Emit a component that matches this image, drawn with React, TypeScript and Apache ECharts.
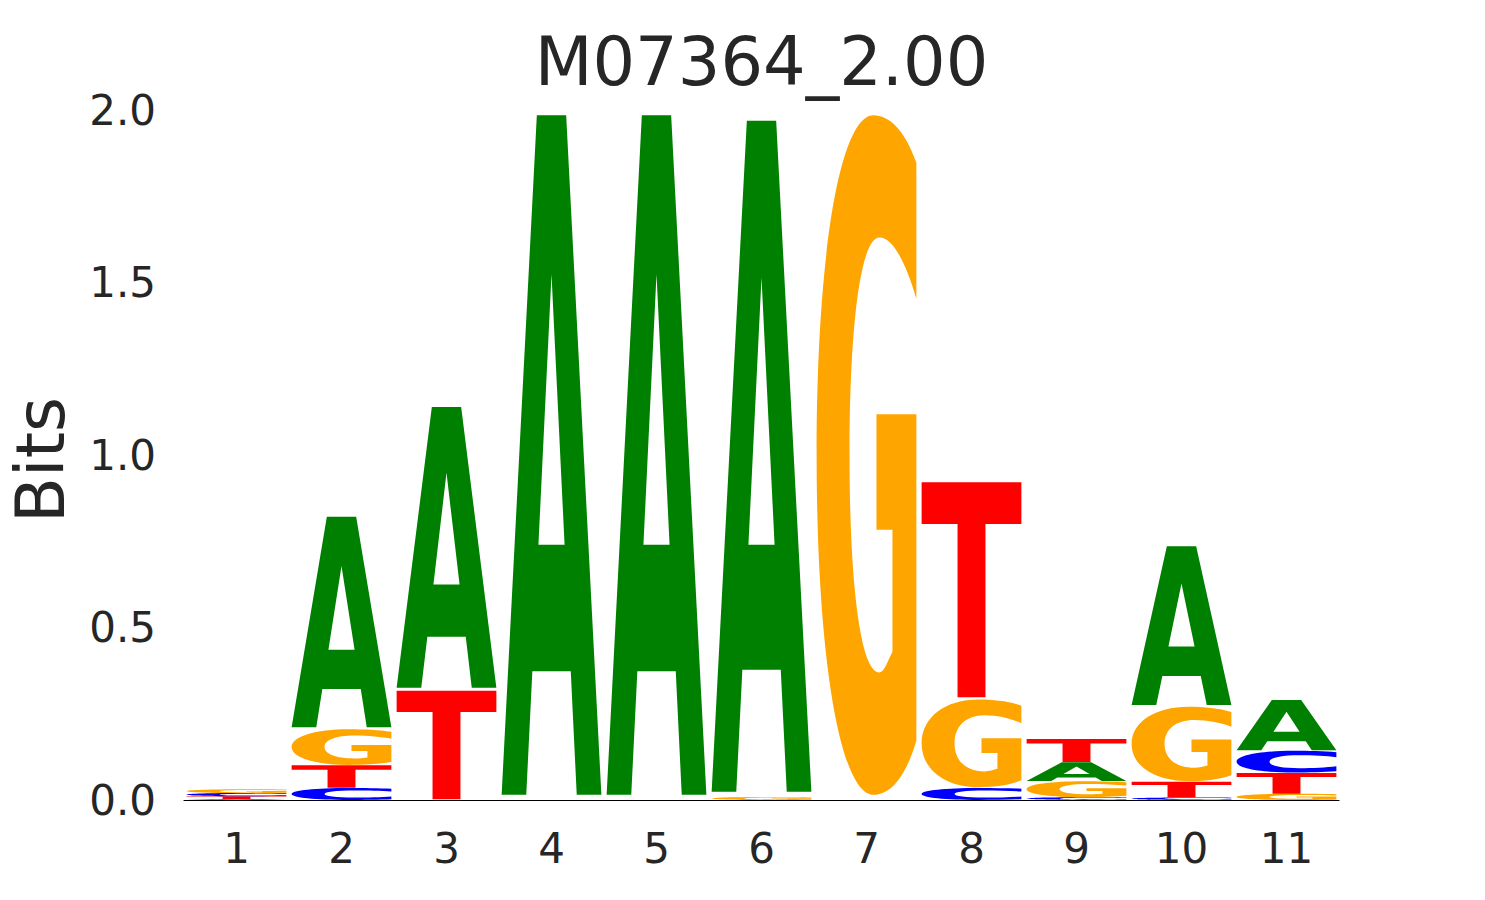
import React, { useEffect, useRef } from "react";
import * as echarts from "echarts";

// ---- data ----
const positions = ["1", "2", "3", "4", "5", "6", "7", "8", "9", "10", "11"];
const letters = ["A", "C", "G", "T"];
const letterColors = ["#008000", "#0000ff", "#ffa500", "#ff0000"];
const heightsA = [0.003, 0.62, 0.826, 2.0, 2.0, 1.975, 0, 0, 0.055, 0.467, 0.148];
const heightsC = [0.009, 0.035, 0, 0, 0, 0, 0, 0.035, 0.008, 0.007, 0.064];
const heightsG = [0.011, 0.105, 0, 0, 0, 0.009, 2.0, 0.258, 0.047, 0.219, 0.018];
const heightsT = [0.008, 0.066, 0.319, 0, 0, 0, 0, 0.633, 0.067, 0.046, 0.061];
const yTicks = [0, 0.5, 1.0, 1.5, 2.0];
const title = "M07364_2.00";
const yName = "Bits";

// glyph outlines in a 100x100 box (y down), stretched to fill each slot
const glyphPaths = [
  // A
  "M0 100 L35.3 0 L64.7 0 L100 100 L75.3 100 L69.3 81.8 L30.8 81.8 L24.7 100 Z M36.9 63.2 L63.1 63.2 L50 23.4 Z",
  // C
  "M100 6 C88 2 72 0 57 0 C24 0 0 20 0 50 C0 80 24 100 57 100 C72 100 88 98 100 94 L100 71 C90 77 76 80 63 80 C44 80 33 68 33 50 C33 32 44 20 63 20 C76 20 90 23 100 29 Z",
  // G
  "M100 7 C88 2 72 0 57 0 C24 0 0 20 0 50 C0 80 24 100 57 100 C72 100 88 98 100 92 L100 44 L60 44 L60 61 L76 61 L76 79 C72 80 68 82 63 82 C44 82 33 69 33 50 C33 31 44 18 63 18 C77 18 90 22 100 27 Z",
  // T
  "M0 0 L100 0 L100 19.5 L64 19.5 L64 100 L36 100 L36 19.5 L0 19.5 Z",
];

const VPAD = 0.015;
const GLYPH_WIDTH = 0.95;
const FONT = "DejaVu Sans";
const TEXT_COLOR = "#262626";

function buildGlyphData() {
  const all = [heightsA, heightsC, heightsG, heightsT];
  const out: number[][] = [];
  positions.forEach((_, i) => {
    const col = letters
      .map((_, li) => ({ li, h: all[li][i] }))
      .filter((d) => d.h > 0)
      .sort((a, b) => a.h - b.h);
    let base = 0;
    col.forEach((d) => {
      out.push([i, base, d.h, d.li]);
      base += d.h;
    });
  });
  return out;
}

export default function App() {
  const ref = useRef<HTMLDivElement>(null);
  useEffect(() => {
    if (!ref.current) return;
    const chart = echarts.init(ref.current, null, { renderer: "svg" });
    const gridLeft = 184;
    const gridTop = 110;
    const gridW = 1155;
    const gridH = 690;
    chart.setOption({
      animation: false,
      backgroundColor: "#ffffff",
      textStyle: { fontFamily: FONT },
      grid: { left: gridLeft, top: gridTop, width: gridW, height: gridH, containLabel: false },
      graphic: [
        {
          type: "text",
          x: gridLeft + gridW / 2,
          y: 62,
          style: {
            text: title,
            font: `67px "${FONT}"`,
            fill: TEXT_COLOR,
            align: "center",
            verticalAlign: "middle",
          },
        },
        {
          type: "text",
          x: 41,
          y: 460,
          rotation: Math.PI / 2,
          style: {
            text: yName,
            font: `67px "${FONT}"`,
            fill: TEXT_COLOR,
            align: "center",
            verticalAlign: "middle",
          },
        },
      ],
      xAxis: {
        type: "category",
        data: positions,
        boundaryGap: true,
        axisLine: { show: true, lineStyle: { color: "#000000", width: 1.2 } },
        axisTick: { show: false },
        splitLine: { show: false },
        axisLabel: {
          color: TEXT_COLOR,
          fontFamily: FONT,
          fontSize: 42,
          margin: 27,
        },
      },
      yAxis: {
        type: "value",
        min: 0,
        max: 2,
        interval: 0.5,
        axisLine: { show: false },
        axisTick: { show: false },
        splitLine: { show: false },
        axisLabel: {
          color: TEXT_COLOR,
          fontFamily: FONT,
          fontSize: 42,
          margin: 28,
          formatter: (v: number) => (yTicks.includes(v) ? v.toFixed(1) : ""),
        },
      },
      series: [
        {
          type: "custom",
          data: buildGlyphData(),
          encode: { x: 0, y: 1 },
          renderItem: (params: any, api: any) => {
            const idx = api.value(0);
            const base = api.value(1);
            const h = api.value(2);
            const li = api.value(3);
            const pad = (h * VPAD) / 2;
            const pTop = api.coord([idx, base + h - pad]);
            const pBot = api.coord([idx, base + pad]);
            const w = api.size([1, 0])[0] * GLYPH_WIDTH;
            const hh = Math.max(pBot[1] - pTop[1], 0.01);
            return {
              type: "path",
              shape: {
                pathData: glyphPaths[li],
                x: pTop[0] - w / 2,
                y: pTop[1],
                width: w,
                height: hh,
                layout: "cover",
              },
              style: { fill: letterColors[li], stroke: null },
            };
          },
        },
      ],
    });
    return () => chart.dispose();
  }, []);
  return (
    <div
      ref={ref}
      style={{ position: "fixed", left: 0, top: 0, width: 1485, height: 900 }}
    />
  );
}
